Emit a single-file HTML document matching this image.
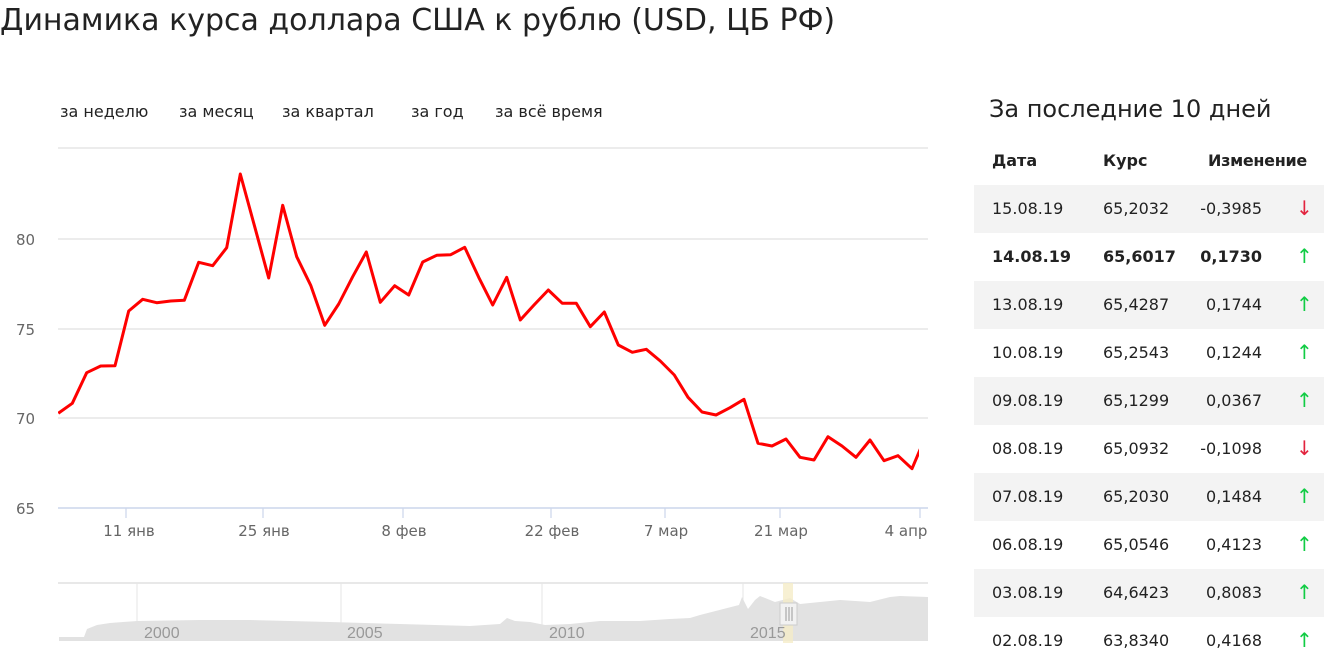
<!DOCTYPE html>
<html><head><meta charset="utf-8"><style>
body{margin:0;width:1324px;height:664px;overflow:hidden;background:#fff;font-family:"DejaVu Sans","Liberation Sans",sans-serif;color:#333;position:relative}
.t{position:absolute;white-space:nowrap}
</style></head><body>
<div class="t" style="left:0;top:3px;font-size:30px;color:#222">Динамика курса доллара США к рублю (USD, ЦБ РФ)</div>
<div class="t" style="left:60px;top:102px;font-size:16px;color:#222">за неделю</div>
<div class="t" style="left:179px;top:102px;font-size:16px;color:#222">за месяц</div>
<div class="t" style="left:282px;top:102px;font-size:16px;color:#222">за квартал</div>
<div class="t" style="left:411px;top:102px;font-size:16px;color:#222">за год</div>
<div class="t" style="left:495px;top:102px;font-size:16px;color:#222">за всё время</div>
<svg width="1324" height="664" style="position:absolute;left:0;top:0">
<g stroke="#e6e6e6" stroke-width="1.5">
<line x1="58" y1="148" x2="928" y2="148"/><line x1="58" y1="239" x2="928" y2="239"/>
<line x1="58" y1="329" x2="928" y2="329"/><line x1="58" y1="418" x2="928" y2="418"/></g>
<line x1="58" y1="508" x2="928" y2="508" stroke="#ccd6eb" stroke-width="1.5"/>
<g stroke="#ccd6eb" stroke-width="1.2"><line x1="126" y1="508" x2="126" y2="518"/><line x1="263" y1="508" x2="263" y2="518"/><line x1="403" y1="508" x2="403" y2="518"/><line x1="551" y1="508" x2="551" y2="518"/><line x1="665" y1="508" x2="665" y2="518"/><line x1="780" y1="508" x2="780" y2="518"/><line x1="920" y1="508" x2="920" y2="518"/></g>
<g font-size="15" fill="#666" font-family="DejaVu Sans,sans-serif">
<text x="16" y="245">80</text><text x="16" y="335">75</text><text x="16" y="424">70</text><text x="16" y="514">65</text>
<g text-anchor="middle"><text x="129" y="536">11 янв</text><text x="264" y="536">25 янв</text><text x="404" y="536">8 фев</text><text x="552" y="536">22 фев</text><text x="666" y="536">7 мар</text><text x="781" y="536">21 мар</text><text x="906" y="536">4 апр</text></g></g>
<clipPath id="c"><rect x="58" y="140" width="861" height="380"/></clipPath>
<polyline clip-path="url(#c)" fill="none" stroke="#f00" stroke-width="3" stroke-linejoin="round" points="58.3,413.3 72.3,403.3 86.7,372.7 100.7,366 115,365.7 128.7,311 142.7,299.3 156.7,302.7 170.7,301 184.3,300.3 198.7,262.3 212.7,265.7 226.7,247.7 240.3,174 254.7,226.7 268.7,278 282.7,205.3 296.7,256.7 310.7,285.3 324.7,325.3 338.7,304 352.7,276.7 366.3,252 380.3,302.3 394.7,285.7 408.7,295 422.7,262 436.7,255.3 450.7,254.7 464.7,247.3 478.7,277.3 492.7,305 506.7,277.3 520.3,320 534,305 548.3,290 562.3,303.3 576.3,303.3 590.3,326.7 604.3,312 618.3,345 632.3,352.3 646.3,349.3 660.3,361 674.3,375 688,397.3 702,412 716,415 730,407.7 744,399.3 758,443.3 772,446 786,439 800,457.3 814,460 828,436.7 842,446 856,457.3 870,440 884,460.7 898,455.7 912,468.7 922,445"/>
<line x1="58" y1="583" x2="928" y2="583" stroke="#e0e0e0" stroke-width="1.5"/>
<g stroke="#e6e6e6"><line x1="137" y1="583" x2="137" y2="641"/><line x1="341" y1="583" x2="341" y2="641"/><line x1="542" y1="583" x2="542" y2="641"/><line x1="743" y1="583" x2="743" y2="641"/></g>
<path fill="#e2e2e2" d="M59,641 L59,637 L84,637 L87,629 L97,625 L110,623 L137,621 L200,620 L250,620 L330,622 L400,624 L470,626 L500,624 L507,618 L515,621 L530,622 L545,625 L570,624 L600,621 L640,621 L670,619 L690,618 L700,615 L739,605 L742,597 L748,609 L755,600 L760,596 L775,602 L790,598 L800,604 L830,601 L840,600 L870,602 L890,597 L900,596 L928,597 L928,641 Z"/>
<rect x="783" y="583" width="10" height="60" fill="#f5ecc8" opacity="0.8"/>
<rect x="780" y="603" width="17" height="22" fill="#f2f2f2" stroke="#ccc"/>
<g stroke="#999"><line x1="786" y1="607" x2="786" y2="621"/><line x1="789" y1="607" x2="789" y2="621"/><line x1="792" y1="607" x2="792" y2="621"/></g>
<g font-size="16" fill="#999" font-family="Liberation Sans Narrow,Liberation Sans,sans-serif"><text x="144" y="638">2000</text><text x="347" y="638">2005</text><text x="549" y="638">2010</text><text x="750" y="638">2015</text></g>
</svg>
<div class="t" style="left:989px;top:95px;font-size:24px;color:#222">За последние 10 дней</div>
<div class="t" style="left:992px;top:151px;font-size:16px;font-weight:bold;color:#222">Дата</div>
<div class="t" style="left:1103px;top:151px;font-size:16px;font-weight:bold;color:#222">Курс</div>
<div class="t" style="left:1208px;top:151px;font-size:16px;font-weight:bold;color:#222;letter-spacing:-0.3px">Изменение</div>
<div style="position:absolute;left:974px;top:185px;width:350px;font-size:16px;color:#222">
<style>.r{height:48px;position:relative}.r span{position:absolute;top:14px}.g{background:#f3f3f3}.d{left:18px}.k{left:129px}.c{right:62px}.a{left:322px;font-size:20px;top:11px!important}</style>
<div class="r g"><span class="d">15.08.19</span><span class="k">65,2032</span><span class="c">-0,3985</span><span class="a" style="color:#e2233e">↓</span></div>
<div class="r" style="font-weight:bold"><span class="d">14.08.19</span><span class="k">65,6017</span><span class="c">0,1730</span><span class="a" style="color:#1c4;font-weight:normal">↑</span></div>
<div class="r g"><span class="d">13.08.19</span><span class="k">65,4287</span><span class="c">0,1744</span><span class="a" style="color:#1c4">↑</span></div>
<div class="r"><span class="d">10.08.19</span><span class="k">65,2543</span><span class="c">0,1244</span><span class="a" style="color:#1c4">↑</span></div>
<div class="r g"><span class="d">09.08.19</span><span class="k">65,1299</span><span class="c">0,0367</span><span class="a" style="color:#1c4">↑</span></div>
<div class="r"><span class="d">08.08.19</span><span class="k">65,0932</span><span class="c">-0,1098</span><span class="a" style="color:#e2233e">↓</span></div>
<div class="r g"><span class="d">07.08.19</span><span class="k">65,2030</span><span class="c">0,1484</span><span class="a" style="color:#1c4">↑</span></div>
<div class="r"><span class="d">06.08.19</span><span class="k">65,0546</span><span class="c">0,4123</span><span class="a" style="color:#1c4">↑</span></div>
<div class="r g"><span class="d">03.08.19</span><span class="k">64,6423</span><span class="c">0,8083</span><span class="a" style="color:#1c4">↑</span></div>
<div class="r"><span class="d">02.08.19</span><span class="k">63,8340</span><span class="c">0,4168</span><span class="a" style="color:#1c4">↑</span></div>
</div>
</body></html>
